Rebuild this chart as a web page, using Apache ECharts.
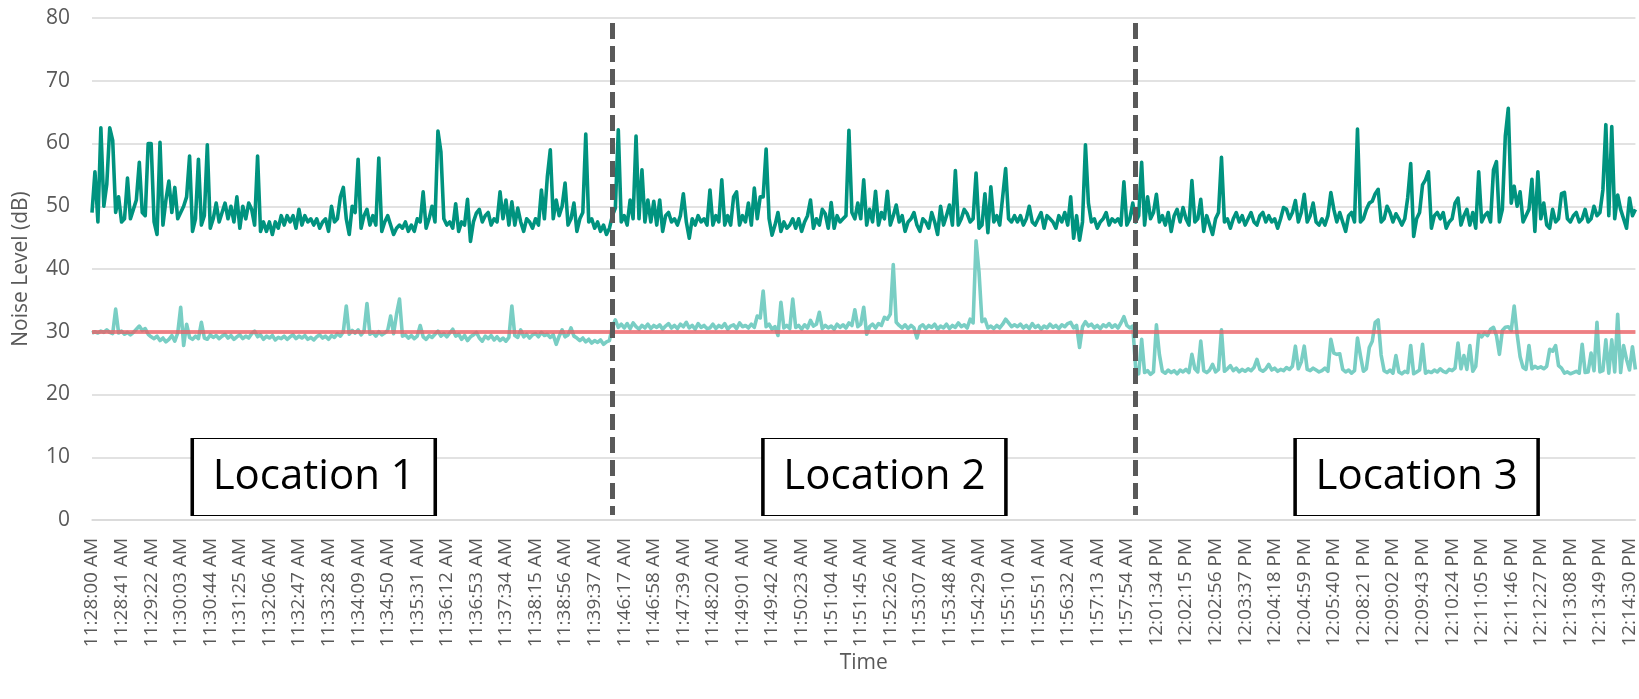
<!DOCTYPE html>
<html>
<head>
<meta charset="utf-8">
<script src="https://cdn.jsdelivr.net/npm/echarts@6/dist/echarts.min.js"></script>
<style>
  html, body { margin: 0; padding: 0; background: #fff; }
  #main { width: 1639px; height: 699px; }
</style>
</head>
<body>
<div id="main"></div>
<script>
// tick labels shown on the time axis (one every 41 s of recording)
var tickLabels = [
  '11:28:00 AM','11:28:41 AM','11:29:22 AM','11:30:03 AM','11:30:44 AM','11:31:25 AM',
  '11:32:06 AM','11:32:47 AM','11:33:28 AM','11:34:09 AM','11:34:50 AM','11:35:31 AM',
  '11:36:12 AM','11:36:53 AM','11:37:34 AM','11:38:15 AM','11:38:56 AM','11:39:37 AM',
  '11:46:17 AM','11:46:58 AM','11:47:39 AM','11:48:20 AM','11:49:01 AM','11:49:42 AM',
  '11:50:23 AM','11:51:04 AM','11:51:45 AM','11:52:26 AM','11:53:07 AM','11:53:48 AM',
  '11:54:29 AM','11:55:10 AM','11:55:51 AM','11:56:32 AM','11:57:13 AM','11:57:54 AM',
  '12:01:34 PM','12:02:15 PM','12:02:56 PM','12:03:37 PM','12:04:18 PM','12:04:59 PM',
  '12:05:40 PM','12:08:21 PM','12:09:02 PM','12:09:43 PM','12:10:24 PM','12:11:05 PM',
  '12:11:46 PM','12:12:27 PM','12:13:08 PM','12:13:49 PM','12:14:30 PM'
];

// noise level readings (dB), 10 readings per tick label
var noiseLevel = [
  49,55.5,47.5,62.5,50,53.5,62.5,60.5,49,51.5,
  47.5,48,54.5,48,49.5,51,57,49,48.5,60,
  60,47.5,45.5,60.2,47,51,54,49,53,48,
  49,50,51.5,58,46,48,57.5,47,48.5,59.8,
  46.5,48,50.5,47.5,49,50.5,48,50,47.5,51.5,
  46.5,50,48,50.5,49.5,47,58,46,47.5,46,
  47.5,45.5,47.5,46.5,48.5,47,48.5,47.5,48.5,46.5,
  49.5,47,48.5,47.5,48,47,48,46.5,47.5,48,
  46,50,47.5,48,51.5,53,48,45.5,50,49,
  57.5,46.5,48.5,49.5,47,48.5,47,57.7,46,47.5,
  48.5,47,45.5,46.5,47,46.5,47.5,46,47,46,
  48,47.5,52.3,46.5,48,50,47.5,62,58.7,48,
  47,47.5,46.5,50.4,46,47.5,47,51.1,44.4,47.5,
  48.9,49.5,47.5,48.5,49,47,48,47.5,52.3,48,
  51,47,50.7,47,49.7,47.5,46,48,47.5,46.5,
  48,47,52.6,48,54.7,59,48,51,48.5,50,
  53.7,47,48,50.5,46,48,49,61.5,47.5,48,
  46.5,47.5,46,47,45.5,46.5,48.5,49.7,62.2,47.5,
  48.5,47,51,48,61.2,48,55.8,47.5,51,47.5,
  50.8,47,51,46,48.5,49,47.5,48,47,48.5,
  52,47.5,44.9,48,47,48.5,47.5,48,47,52.6,
  47,48.5,47.5,54.2,47,48.5,47,51.5,52.3,47,
  48.5,47.5,50.5,47,52.9,48,51.5,51.5,59.1,48,
  45.4,47,49,46,47.5,46.5,47,48,46.5,48,
  46,47.5,48.5,51,46.5,48,47,49.5,48.8,46.5,
  50.6,46.5,48.5,47.5,48,48.5,62.1,49,48,50.5,
  48,54.2,47,49.5,47.5,52.4,47,49,48,52.4,
  47,48.5,50.2,47.5,48.5,46,47.5,48,49,47,
  46,48,47.5,46.5,49,47.5,45.5,50,47,48.5,
  50.2,47,55.7,47,48,49.5,48.8,47.5,48,55.3,
  46.5,47,52,45.8,53.1,47.5,48.5,47,51.5,56,
  48,47.5,48.5,47.5,48.5,47,48,50,47.5,47,
  48,49,46.5,48.5,48,47.5,46.5,48.5,47.5,49,
  47,51.5,44.9,48.5,44.6,47.5,59.8,50.5,47.5,48,
  46.5,47.5,48,49,47,48,47.5,48,47,53.9,
  47,48,50.5,47.5,48.5,57,47,51.5,48,49,
  51.9,47.5,48.5,47,49,46,48.5,49.5,47.5,49.8,
  48,47,54.1,47.5,48,51.1,46,48.5,47,45.5,
  48,49,57.8,47.5,48,46.5,48,49,47.5,48.5,
  47,48,49,47.5,47,48.5,49,47.5,48.5,47.5,
  48,46.5,48,49.8,49.5,48,49,50.9,47.5,49,
  51.9,47.5,48.5,50.5,47.5,47,48,47,48.5,52.2,
  49.5,47.5,49,47.5,46,48.5,49,47.5,62.3,47.5,
  48,49.5,50.5,50.8,52,52.7,47.5,48,50,49,
  47.5,48.8,48,47,48,51.4,56.8,45.2,48,49,
  53.4,54.2,55.5,46.5,48.5,49,48,49,46.5,47.5,
  48,50.5,51.3,47,48.5,49.5,47,49,46.5,55.5,
  47.5,48.5,49,47.5,55.8,57.1,47.5,49.5,61.2,65.6,
  50.5,53.2,50,52.3,47.5,48.5,49.5,54.3,46,55.5,
  48,50.5,47,46.5,49.5,47.5,48,52,52.2,48,
  47.5,48.5,49,47.5,48,49.5,47.5,48,50,48.5,
  49,52.6,63,48.5,62.7,48,51.8,49.5,48,46.5,
  51.3,48.5,49.5
];

// second, quieter measurement (dB), same time base
var indoorLevel = [
  29.8,30,29.8,30.1,29.9,30.3,29.9,29.7,33.6,29.8,
  30.1,29.6,29.9,29.5,29.9,30.4,30.9,30.2,30.5,29.6,
  29.2,28.9,29.3,28.6,29,28.4,28.8,29.4,28.5,29.8,
  33.9,27.8,31.2,29.1,28.8,29.3,28.9,31.5,29,28.8,
  29.5,29.1,29.4,28.9,29.3,29.6,29,29.4,28.8,29.2,
  29.5,28.9,29.3,29,29.7,30.1,29.2,29.5,28.8,29.3,
  29,29.4,28.7,29.1,28.9,29.3,28.8,29.2,29.5,28.9,
  29.3,29,29.4,28.8,29.1,28.7,29.2,29.5,29,29.3,
  28.8,29.4,29.1,29.7,29.3,30,34.1,29.6,30.2,29.8,
  30.3,29.5,30.1,34.5,29.6,29.9,29.3,30,29.5,29.8,
  30.2,32.5,29.7,32.8,35.2,29.3,29.5,29,29.4,28.9,
  29.3,31,29.2,28.8,29.4,29.1,29.6,30.1,29.3,29.7,
  29.2,29.8,30.4,29.3,29.6,28.8,29.4,28.6,29.2,29.5,
  29.9,29,28.5,29.3,28.9,29.4,28.7,29.2,28.6,29,
  28.5,29.1,34.1,29.4,29.1,30.3,29.2,29.6,29,29.5,
  29.7,29.2,29.9,29.4,29.6,29.1,29.5,28,29.3,30.3,
  29.2,29.5,30.6,29.3,29,28.6,29,28.4,28.8,28.2,
  28.6,28.3,28.7,28,28.4,28.6,30.8,31.9,30.7,31.2,
  30.6,31.3,30.5,31.4,30.8,30.4,31,30.6,31.2,30.5,
  31,30.7,31.1,30.4,30.9,31.3,30.6,31,30.5,31.2,
  30.8,31.5,30.6,31,30.4,31.3,30.7,31,30.5,30.6,
  31.2,30.5,31,30.7,31.3,30.4,30.9,31.1,30.5,31.4,
  30.8,31,30.6,31.2,30.7,32.5,32.2,36.5,30.8,31.2,
  30.4,30.8,29.4,34.7,30.6,31,30.5,35.2,30.7,31,
  30.4,31.1,30.6,31.8,30.9,31.2,33.1,30.5,31,30.6,
  30.9,30.4,31.2,30.7,31.1,30.6,31.4,31,33.5,30.8,
  31.2,33.9,29.6,30.8,31.2,30.6,31.3,31,32.3,32,
  32.8,40.7,31.5,31,30.6,31.1,30.5,31,30.6,29,
  30.8,31.1,30.5,31,30.7,31.2,30.4,30.9,30.6,31.2,
  30.5,31,30.7,31.4,30.8,31.1,30.6,32,31.4,44.5,
  39.5,31.6,32,30.6,30.9,30.5,31,30.6,31.2,32,
  31.4,30.8,31.1,30.8,31.2,30.6,31,30.5,31.3,30.7,
  31,30.4,30.9,30.6,31.2,30.7,31,30.5,31.1,30.8,
  31.3,31.5,30.6,31,27.5,30.8,31.6,30.9,31.2,30.6,
  31,30.5,31.1,30.8,31.3,30.7,31.1,30.6,31.4,32.4,
  31,30.6,30.9,24,23.3,28.8,23.5,23.8,23.2,23.6,
  31.1,26.4,23.7,23.4,23.9,23.5,23.8,23.3,23.9,23.6,
  24,23.5,26.4,24.1,23.6,28.5,23.8,23.5,23.9,24.8,
  23.6,24,30.3,23.7,24.1,24.6,23.8,24.2,23.6,24,
  23.7,24.1,23.8,24.3,25.6,24,23.7,24.1,24.8,23.9,
  24.2,23.7,24,23.8,24.3,24,24.5,27.7,24.1,25.2,
  27.7,24,23.8,24.2,23.9,23.6,23.8,24.2,23.7,28.8,
  26.6,26.4,26.5,24,23.6,23.9,23.4,23.8,29,26.2,
  23.7,24.1,27.5,28.5,31.5,31.9,26.3,23.8,23.5,23.9,
  23.4,26.2,23.6,23.3,23.7,23.5,27.8,23.3,23.6,23.9,
  28,23.4,23.7,23.5,23.9,23.6,24.1,23.7,23.5,24,
  23.8,24.2,28.2,24.1,26.2,24,27.8,23.7,24.5,29.6,
  29.2,29.8,29.4,30.4,30.7,29.4,26.4,30.2,30.7,30.8,
  30.2,34.1,29.6,26,24.3,24,27.8,24.1,24.5,24.2,
  24.4,24.1,24.5,27.2,26.9,27.8,24.6,24.2,23.4,23.6,
  23.3,23.5,23.7,23.4,28,23.5,23.6,26.6,23.8,31.5,
  23.6,23.8,28.7,23.4,28.7,23.6,32.8,23.5,27.8,25.6,
  23.9,27.6,24
];

var limitLevel = 30;
var locationNames = ['Location 1', 'Location 2', 'Location 3'];
var locationAt = [75, 268, 448];     // category index of each box centre
var locationChanges = [176, 353];    // category index of the dashed separators

// build one time string per reading from the tick labels
function toSec(s) {
  var p = s.split(/[: ]/);
  var h = (+p[0]) % 12;
  if (p[3] === 'PM') h += 12;
  return h * 3600 + (+p[1]) * 60 + (+p[2]);
}
function pad(n) { return (n < 10 ? '0' : '') + n; }
function fmt(t) {
  var h = Math.floor(t / 3600), m = Math.floor(t / 60) % 60, s = t % 60;
  return (h % 12 || 12) + ':' + pad(m) + ':' + pad(s) + ' ' + (h >= 12 ? 'PM' : 'AM');
}
var times = [];
tickLabels.forEach(function (lab, k) {
  times.push(lab);
  var extra = k < tickLabels.length - 1 ? 9 : noiseLevel.length - 1 - (tickLabels.length - 1) * 10;
  for (var j = 1; j <= extra; j++) times.push(fmt(toSec(lab) + Math.round(j * 4.1)));
});

var FONT = 'Open Sans';
var chart = echarts.init(document.getElementById('main'));

chart.setOption({
  animation: false,
  grid: { left: 92, right: 2, top: 18, bottom: 179 },
  xAxis: {
    type: 'category',
    data: times,
    boundaryGap: false,
    name: 'Time',
    nameLocation: 'middle',
    nameGap: 133,
    nameMoveOverlap: false,
    nameTextStyle: { fontFamily: FONT, fontSize: 21, color: '#595959' },
    axisLine: { lineStyle: { color: '#d9d9d9', width: 1.5 } },
    axisTick: { show: false },
    axisLabel: {
      interval: 9, rotate: 90, margin: 18,
      fontFamily: FONT, fontSize: 19, color: '#595959'
    },
    splitLine: { show: false }
  },
  yAxis: {
    type: 'value',
    min: 0, max: 80, interval: 10,
    name: 'Noise Level (dB)',
    nameLocation: 'middle',
    nameGap: 60,
    nameTextStyle: { fontFamily: FONT, fontSize: 21, color: '#595959' },
    axisLine: { show: false },
    axisTick: { show: false },
    axisLabel: { margin: 22, fontFamily: FONT, fontSize: 21, color: '#595959' },
    splitLine: { lineStyle: { color: '#d9d9d9', width: 1.5 } }
  },
  series: [
    {
      name: 'Noise',
      type: 'line',
      data: noiseLevel,
      showSymbol: false,
      silent: true,
      lineStyle: { color: '#00937f', width: 3.6, join: 'round' },
      itemStyle: { color: '#00937f' },
      markPoint: {
        silent: true,
        symbol: 'rect',
        symbolSize: [243, 77],
        itemStyle: { color: '#fff', borderColor: '#000', borderWidth: 2 },
        label: {
          show: true, position: 'inside', formatter: '{b}',
          fontFamily: FONT, fontSize: 42, color: '#000'
        },
        data: locationNames.map(function (n, i) {
          return { name: n, coord: [locationAt[i], 6.85] };
        })
      }
    },
    {
      name: 'Indoor',
      type: 'line',
      data: indoorLevel,
      showSymbol: false,
      silent: true,
      lineStyle: { color: '#79cec4', width: 3.6, join: 'round' },
      itemStyle: { color: '#79cec4' },
      markLine: {
        silent: true,
        symbol: 'none',
        label: { show: false },
        data: [
          { yAxis: limitLevel, lineStyle: { color: 'rgba(238,90,95,0.72)', width: 4, type: 'solid' } }
        ]
      }
    },
    {
      name: 'Separators',
      type: 'line',
      data: [],
      silent: true,
      z: 5,
      markLine: {
        silent: true,
        symbol: 'none',
        label: { show: false },
        lineStyle: { color: '#595959', width: 5, type: [16, 7] },
        data: locationChanges.map(function (c) {
          return [{ coord: [c, 79.2] }, { coord: [c, 0.8] }];
        })
      }
    }
  ]
});
</script>
</body>
</html>
